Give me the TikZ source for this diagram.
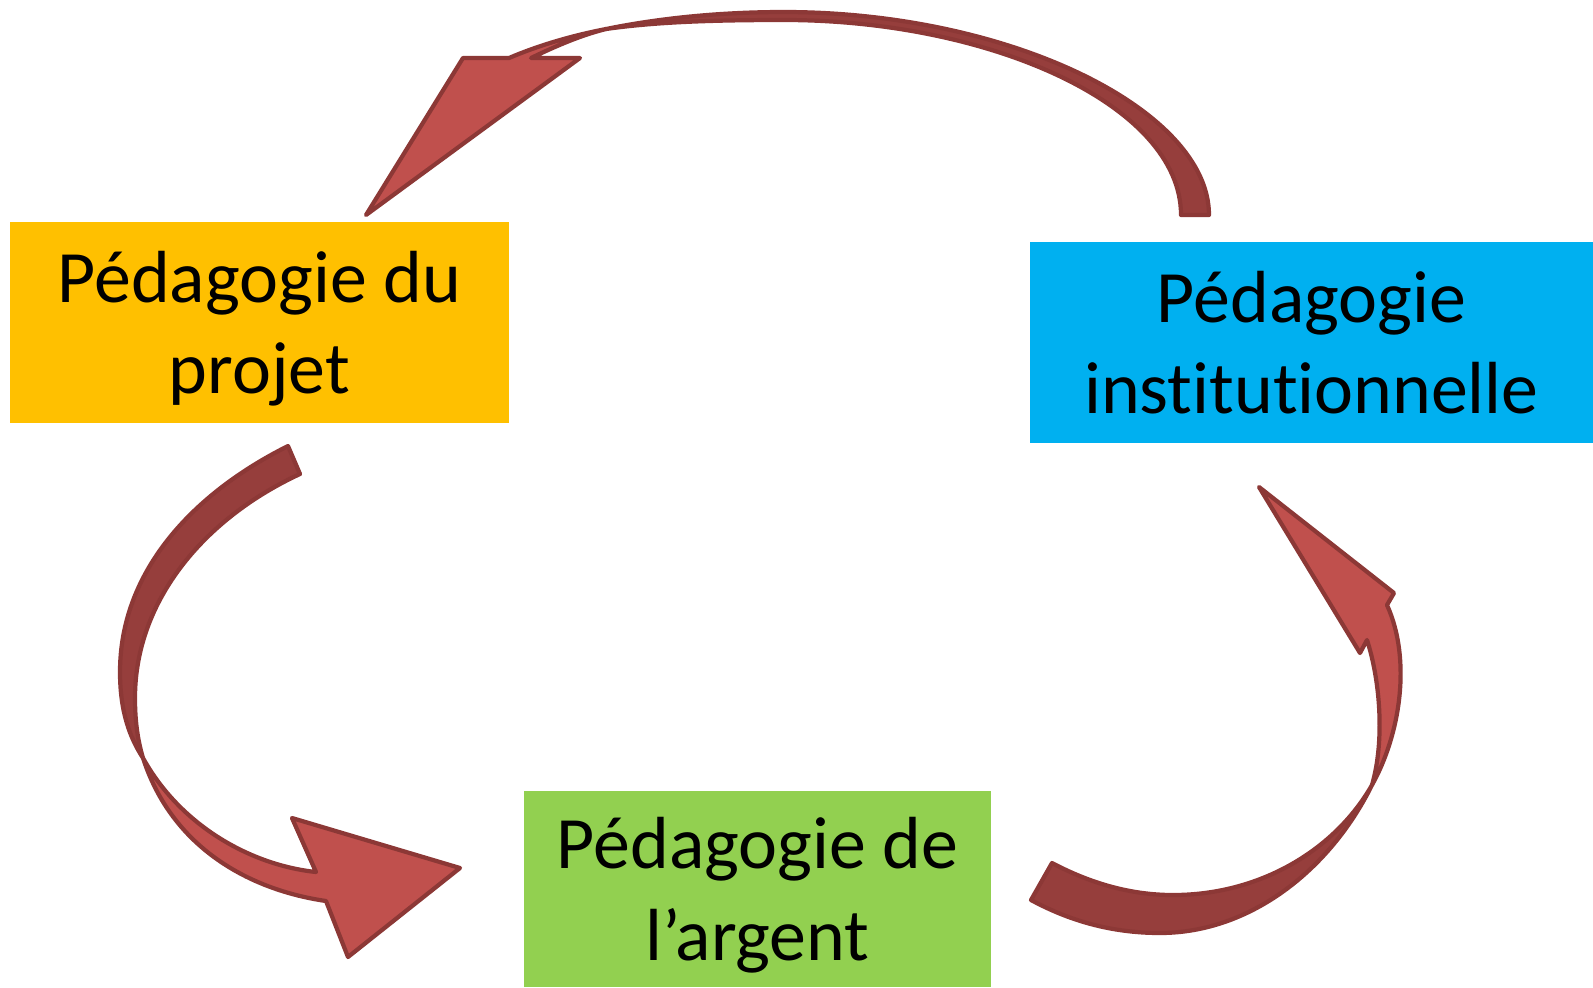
\documentclass[tikz,border=0pt]{standalone}
\usepackage{fontspec}
\setmainfont{Carlito}[Ligatures=NoCommon]
\usepackage{xcolor}
\usepackage{tikz}
\definecolor{projetcol}{HTML}{FFC000}
\definecolor{instcol}{HTML}{00B0F0}
\definecolor{argentcol}{HTML}{92D050}
\definecolor{arrowfront}{HTML}{C0504D}
\definecolor{arrowback}{HTML}{963E3C}
\definecolor{arrowline}{HTML}{8C3836}

\begin{document}
\begin{tikzpicture}[
    x=0.01cm, y=-0.01cm,
    box/.style={rectangle, inner sep=0pt, align=center, text depth=0pt, font=\fontsize{21}{26}\selectfont},
    back/.style={fill=arrowback, draw=arrowline, line width=1.2pt, line join=round},
    front/.style={fill=arrowfront, draw=arrowline, line width=1.2pt, line join=round}
]
\useasboundingbox (0,0) rectangle (1593,987);

\node[box, fill=projetcol, minimum width=4.99cm, minimum height=2.01cm] (projet) at (259.5,322.5) {Pédagogie du\\projet};
\node[box, fill=instcol, minimum width=5.63cm, minimum height=2.01cm] (inst) at (1311.5,342.5) {Pédagogie\\institutionnelle};
\node[box, fill=argentcol, minimum width=4.67cm, minimum height=1.96cm] (argent) at (757.5,889) {Pédagogie de\\l’argent};

% institutionnelle -> projet
\draw[back] (1209,215) .. controls (1209,110) and (1010,12) .. (784,12)
    .. controls (721,12) and (660,18) .. (606,29)
    .. controls (655,22) and (712,20) .. (784,20)
    .. controls (990,20) and (1181,105) .. (1181,215) -- cycle;
\draw[front] (606,29) .. controls (570,36) and (537,46) .. (509,58) -- (463,58) -- (366,215)
    -- (580,58) -- (531,58) .. controls (552,48) and (578,36) .. (606,29) -- cycle;

% projet -> argent
\draw[back] (288,446) .. controls (192,494) and (120,572) .. (120,672)
    .. controls (120,712) and (130,738) .. (143,758)
    .. controls (137,738) and (135,718) .. (135,698)
    .. controls (135,600) and (205,518) .. (300,474) -- cycle;
\draw[front] (143,758) .. controls (172,848) and (250,890) .. (326,901) -- (348,957) -- (460,868)
    -- (292,818) -- (316,872) .. controls (250,865) and (180,825) .. (143,758) -- cycle;

% argent -> institutionnelle
\draw[back] (1052,863) .. controls (1090,883) and (1130,895) .. (1173,895)
    .. controls (1260,895) and (1335,850) .. (1372,785)
    .. controls (1330,870) and (1250,933) .. (1160,933)
    .. controls (1110,933) and (1068,920) .. (1031,900) -- cycle;
\draw[front] (1372,785) .. controls (1400,735) and (1412,660) .. (1387,605) -- (1394,593) -- (1259,487)
    -- (1360,653) -- (1367,640) .. controls (1380,680) and (1385,740) .. (1372,785) -- cycle;
\end{tikzpicture}
\end{document}
